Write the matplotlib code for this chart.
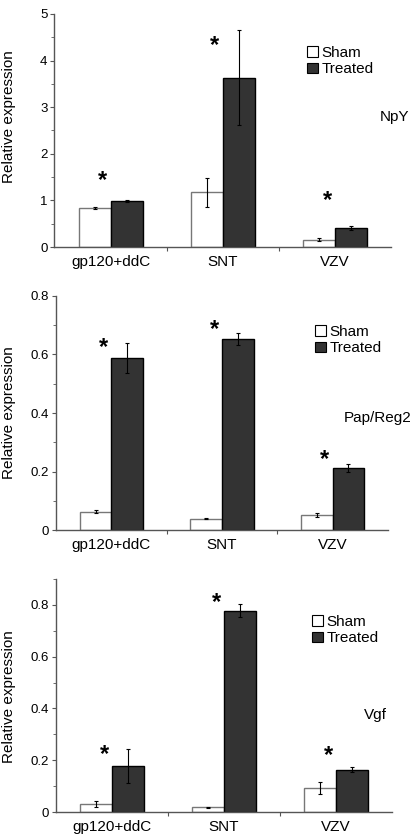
import matplotlib
matplotlib.use("Agg")
import matplotlib.pyplot as plt
import numpy as np
from matplotlib.patches import Patch
from matplotlib.ticker import MultipleLocator, FixedLocator

plt.rcParams['font.family'] = ['Liberation Sans', 'DejaVu Sans']

categories = ["gp120+ddC", "SNT", "VZV"]
genes = ["NpY", "Pap/Reg2", "Vgf"]

npy_sham = [0.83, 1.17, 0.16]
npy_sham_err = [0.02, 0.31, 0.04]
npy_treated = [0.98, 3.63, 0.41]
npy_treated_err = [0.02, 1.02, 0.05]
npy_star = [1.42, 4.32, 1.0]

pap_sham = [0.063, 0.039, 0.051]
pap_sham_err = [0.005, 0.002, 0.006]
pap_treated = [0.588, 0.654, 0.211]
pap_treated_err = [0.05, 0.021, 0.014]
pap_star = [0.625, 0.685, 0.24]

vgf_sham = [0.032, 0.018, 0.092]
vgf_sham_err = [0.012, 0.002, 0.022]
vgf_treated = [0.178, 0.778, 0.164]
vgf_treated_err = [0.066, 0.026, 0.009]
vgf_star = [0.222, 0.81, 0.22]

W, H = 413, 838
fig = plt.figure(figsize=(W / 100, H / 100), dpi=100)

panels = [
    dict(box=(54.5, 391, 14, 247), ylim=5, major=1, minor=0.5, fmt="{:.0f}",
         sham=npy_sham, se=npy_sham_err, tr=npy_treated, te=npy_treated_err, star=npy_star,
         gene=genes[0], gx=380, gy=117),
    dict(box=(56, 388, 296, 530), ylim=0.8, major=0.2, minor=0.1, fmt="{:g}",
         sham=pap_sham, se=pap_sham_err, tr=pap_treated, te=pap_treated_err, star=pap_star,
         gene=genes[1], gx=344, gy=418),
    dict(box=(56, 392, 579, 812), ylim=0.9, major=0.2, minor=0.1, fmt="{:g}",
         sham=vgf_sham, se=vgf_sham_err, tr=vgf_treated, te=vgf_treated_err, star=vgf_star,
         gene=genes[2], gx=364, gy=715),
]
legend_px = [(307, 46), (315, 325), (312, 615)]
ylabel_py = [117, 413, 697]

x = np.arange(len(categories))
bw = 0.286
spine_col = "#555555"
for i, p in enumerate(panels):
    l, r, t, b = p["box"]
    pw, ph = r - l, b - t
    ax = fig.add_axes([l / W, 1 - b / H, pw / W, ph / H])
    ax.bar(x - bw / 2, p["sham"], bw, color="white", edgecolor="#777777", linewidth=1,
           yerr=p["se"], error_kw=dict(ecolor="black", elinewidth=0.8, capsize=1.5, capthick=0.8))
    ax.bar(x + bw / 2, p["tr"], bw, color="#333333", edgecolor="black", linewidth=1,
           yerr=p["te"], error_kw=dict(ecolor="black", elinewidth=0.8, capsize=1.5, capthick=0.8))
    for xi, sy in zip(x, p["star"]):
        ax.text(xi - 0.07, sy, "*", ha="center", va="center", fontsize=17, fontweight="bold")
    ax.set_xlim(-0.5, 2.5)
    ax.set_ylim(0, p["ylim"])
    ax.spines["top"].set_visible(False)
    ax.spines["right"].set_visible(False)
    for s in ("left", "bottom"):
        ax.spines[s].set_color(spine_col)
        ax.spines[s].set_linewidth(1)
    ax.xaxis.set_major_locator(FixedLocator([0.5, 1.5]))
    ax.xaxis.set_minor_locator(FixedLocator(list(x)))
    ax.set_xticklabels([], minor=False)
    ax.set_xticklabels(categories, minor=True, fontsize=11)
    ax.tick_params(axis="x", which="major", length=3, color=spine_col, direction="out")
    ax.tick_params(axis="x", which="minor", length=0, pad=6)
    ticks = np.arange(0, p["ylim"] + 1e-9, p["major"])
    if p["ylim"] == 0.9:
        ticks = ticks[ticks <= 0.8 + 1e-9]
    ax.set_yticks(ticks)
    ax.set_yticklabels([p["fmt"].format(round(v, 2)) for v in ticks], fontsize=9.5)
    ax.yaxis.set_minor_locator(MultipleLocator(p["minor"]))
    ax.tick_params(axis="y", which="major", length=3, color=spine_col, pad=2)
    ax.tick_params(axis="y", which="minor", length=2, color=spine_col)
    ax.set_ylabel("Relative expression", fontsize=11)
    ax.yaxis.set_label_coords((16 - l) / pw, (b - ylabel_py[i]) / ph)
    ax.text((p["gx"] - l) / pw, (b - p["gy"]) / ph, p["gene"], transform=ax.transAxes,
            ha="left", va="center", fontsize=11)
    lx, ly = legend_px[i]
    handles = [Patch(facecolor="white", edgecolor="black", linewidth=0.8, label="Sham"),
               Patch(facecolor="#333333", edgecolor="black", linewidth=0.8, label="Treated")]
    ax.legend(handles=handles, loc="upper left", bbox_to_anchor=((lx - l) / pw, (b - ly) / ph),
              frameon=False, fontsize=11, handlelength=0.7, handleheight=0.7,
              handletextpad=0.25, labelspacing=0.15, borderpad=0, borderaxespad=0)

fig.savefig("out.png", dpi=100)
